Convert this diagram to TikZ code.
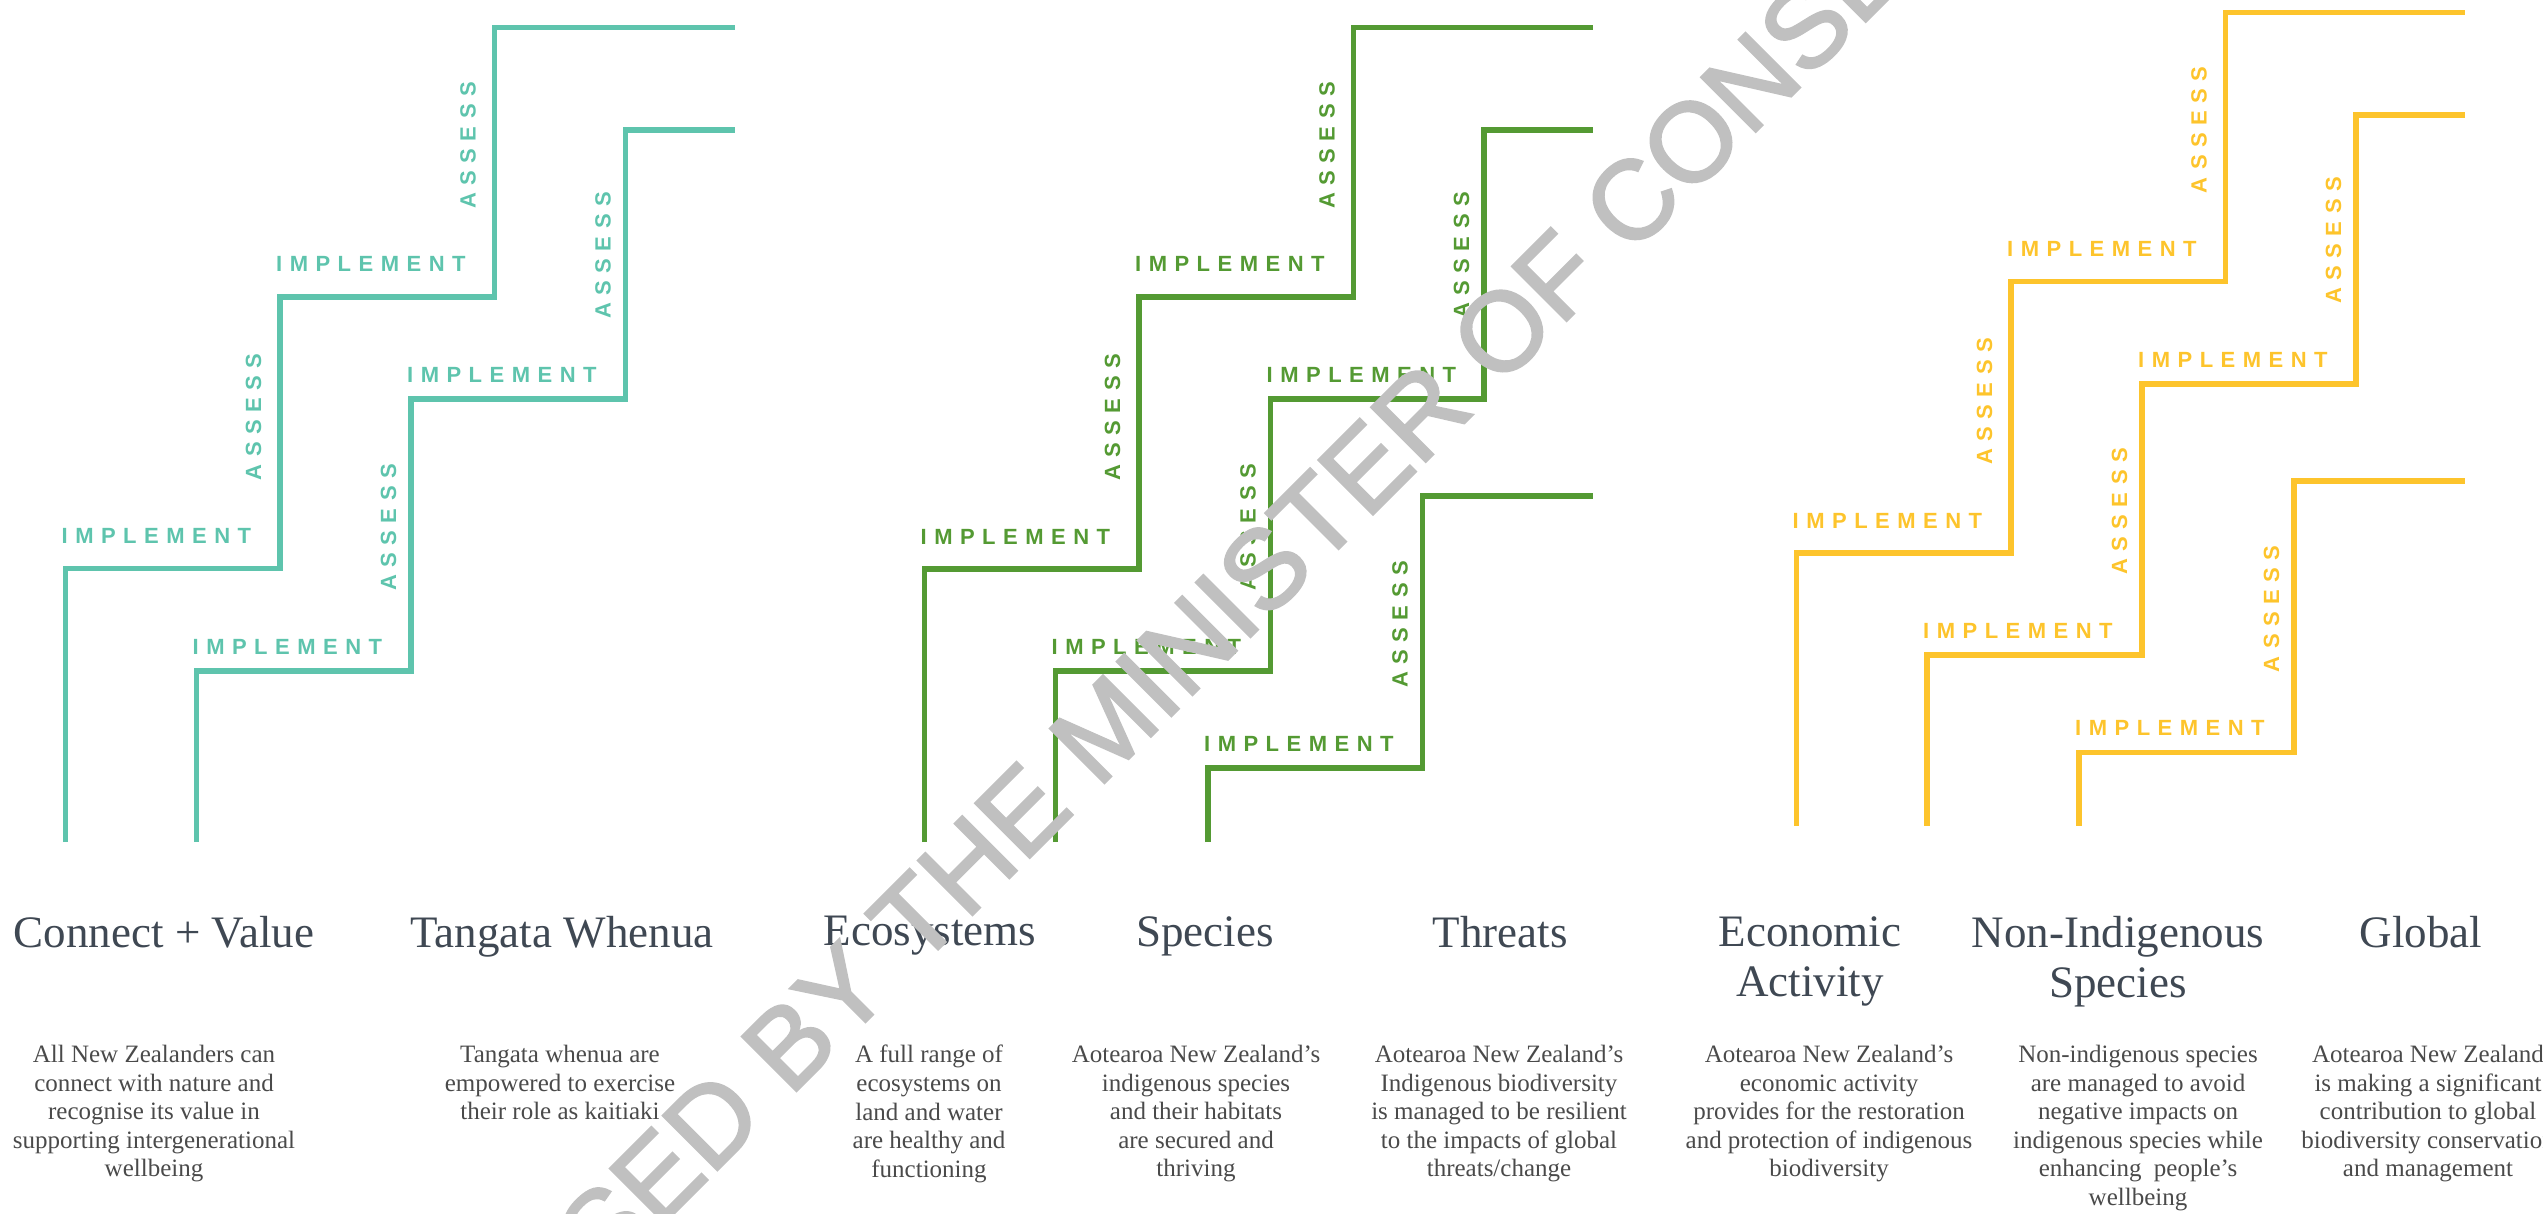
\documentclass[tikz,border=0pt]{standalone}
\usepackage{fontspec}
\setmainfont{Liberation Serif}
\newfontfamily\stepfont{Liberation Sans}[LetterSpace=34]
\newfontfamily\stampfont{Liberation Sans}[FakeBold=2]
\definecolor{seafoam}{HTML}{5EC4AD}
\definecolor{fern}{HTML}{549A33}
\definecolor{marigold}{HTML}{FDC42C}
\definecolor{ink}{HTML}{3F4853}
\definecolor{graphite}{HTML}{4A4A4A}
\definecolor{haze}{HTML}{C0C0C0}

\begin{document}
\begin{tikzpicture}[x=1pt,y=-1pt,
  stair/.style={line width=5.5pt},
  steplabel/.style={font=\stepfont\bfseries\fontsize{22}{22}\selectfont,inner sep=0pt,anchor=base west},
  riserlabel/.style={steplabel,rotate=90},
  heading/.style={font=\fontsize{45}{50}\selectfont,text=ink,align=center,anchor=north,inner sep=0pt},
  blurb/.style={font=\fontsize{25}{28.6}\selectfont,text=graphite,align=center,anchor=north,inner sep=0pt}]
  \useasboundingbox (0,0) rectangle (2543,1214);

  % teal stairs
  \draw[stair,seafoam] (65.5,842) -- (65.5,568.5) -- (280,568.5) -- (280,297) -- (494.5,297) -- (494.5,27.5) -- (735,27.5);
  \node[steplabel,seafoam] (impA1) at (61.5,543.5) {IMPLEMENT};
  \node[steplabel,seafoam] (impA2) at (276,272) {IMPLEMENT};
  \node[riserlabel,seafoam] (assA1) at (261,480.5) {ASSESS};
  \node[riserlabel,seafoam] (assA2) at (475.5,209) {ASSESS};

  \draw[stair,seafoam] (196.5,842) -- (196.5,671) -- (411,671) -- (411,399) -- (625.5,399) -- (625.5,130) -- (735,130);
  \node[steplabel,seafoam] (impB1) at (192.5,654) {IMPLEMENT};
  \node[steplabel,seafoam] (impB2) at (407,382) {IMPLEMENT};
  \node[riserlabel,seafoam] (assB1) at (396,591) {ASSESS};
  \node[riserlabel,seafoam] (assB2) at (610.5,319) {ASSESS};

  % green stairs
  \draw[stair,fern] (924.5,842) -- (924.5,569) -- (1139,569) -- (1139,297) -- (1353.5,297) -- (1353.5,27.5) -- (1593,27.5);
  \node[steplabel,fern] (impC1) at (920.5,544) {IMPLEMENT};
  \node[steplabel,fern] (impC2) at (1135,272) {IMPLEMENT};
  \node[riserlabel,fern] (assC1) at (1120,481) {ASSESS};
  \node[riserlabel,fern] (assC2) at (1334.5,209) {ASSESS};

  \draw[stair,fern] (1055.5,842) -- (1055.5,671) -- (1270.5,671) -- (1270.5,399) -- (1484,399) -- (1484,130) -- (1593,130);
  \node[steplabel,fern] (impD1) at (1051.5,654) {IMPLEMENT};
  \node[steplabel,fern] (impD2) at (1266.5,382) {IMPLEMENT};
  \node[riserlabel,fern] (assD1) at (1255.5,591) {ASSESS};
  \node[riserlabel,fern] (assD2) at (1469,319) {ASSESS};

  \draw[stair,fern] (1208,842) -- (1208,768) -- (1422.5,768) -- (1422.5,496) -- (1593,496);
  \node[steplabel,fern] (impE1) at (1204,751) {IMPLEMENT};
  \node[riserlabel,fern] (assE1) at (1407.5,688) {ASSESS};

  % yellow stairs
  \draw[stair,marigold] (1796.5,825.5) -- (1796.5,553) -- (2011,553) -- (2011,281.5) -- (2225.5,281.5) -- (2225.5,12.5) -- (2465,12.5);
  \node[steplabel,marigold] (impF1) at (1792.5,528) {IMPLEMENT};
  \node[steplabel,marigold] (impF2) at (2007,256.5) {IMPLEMENT};
  \node[riserlabel,marigold] (assF1) at (1992,465) {ASSESS};
  \node[riserlabel,marigold] (assF2) at (2206.5,193.5) {ASSESS};

  \draw[stair,marigold] (1927,825.5) -- (1927,655) -- (2142,655) -- (2142,384) -- (2356,384) -- (2356,115) -- (2465,115);
  \node[steplabel,marigold] (impG1) at (1923,638) {IMPLEMENT};
  \node[steplabel,marigold] (impG2) at (2138,367) {IMPLEMENT};
  \node[riserlabel,marigold] (assG1) at (2127,575) {ASSESS};
  \node[riserlabel,marigold] (assG2) at (2341,304) {ASSESS};

  \draw[stair,marigold] (2079,825.5) -- (2079,752.5) -- (2294,752.5) -- (2294,481) -- (2465,481);
  \node[steplabel,marigold] (impH1) at (2075,735.5) {IMPLEMENT};
  \node[riserlabel,marigold] (assH1) at (2279,672.5) {ASSESS};

  % headings
  \node[heading] (connect) at (164,916) {Connect + Value};
  \node[heading] (whenua) at (562,916) {Tangata Whenua};
  \node[heading] (ecosys) at (930,916) {Ecosystems};
  \node[heading] (species) at (1205,916) {Species};
  \node[heading] (threats) at (1500,916) {Threats};
  \node[heading] (economic) at (1810,916) {Economic\\Activity};
  \node[heading] (nonindig) at (2118,916) {Non-Indigenous\\Species};
  \node[heading] (global) at (2421,916) {Global};

  % outcome texts
  \node[blurb] (connecttxt) at (154,1045) {All New Zealanders can\\connect with nature and\\recognise its value in\\supporting intergenerational\\wellbeing};
  \node[blurb] (whenuatxt) at (560,1045) {Tangata whenua are\\empowered to exercise\\their role as kaitiaki};
  \node[blurb] (ecosystxt) at (929,1045) {A full range of\\ecosystems on\\land and water\\are healthy and\\functioning};
  \node[blurb] (speciestxt) at (1196,1045) {Aotearoa New Zealand’s\\indigenous species\\and their habitats\\are secured and\\thriving};
  \node[blurb] (threatstxt) at (1499,1045) {Aotearoa New Zealand’s\\Indigenous biodiversity\\is managed to be resilient\\to the impacts of global\\threats/change};
  \node[blurb] (economictxt) at (1829,1045) {Aotearoa New Zealand’s\\economic activity\\provides for the restoration\\and protection of indigenous\\biodiversity};
  \node[blurb] (nonindigtxt) at (2138,1045) {Non-indigenous species\\are managed to avoid\\negative impacts on\\indigenous species while\\enhancing~~people’s\\wellbeing};
  \node[blurb] (globaltxt) at (2428,1045) {Aotearoa New Zealand\\is making a significant\\contribution to global\\biodiversity conservation\\and management};

  % watermark
  \begin{scope}
    \clip (0,0) rectangle (2543,1214);
    \node[haze,font=\stampfont\fontsize{112}{112}\selectfont,rotate=45,inner sep=0pt] (stamp) at (1271,562) {RELEASED BY THE MINISTER OF CONSERVATION};
  \end{scope}
\end{tikzpicture}
\end{document}
